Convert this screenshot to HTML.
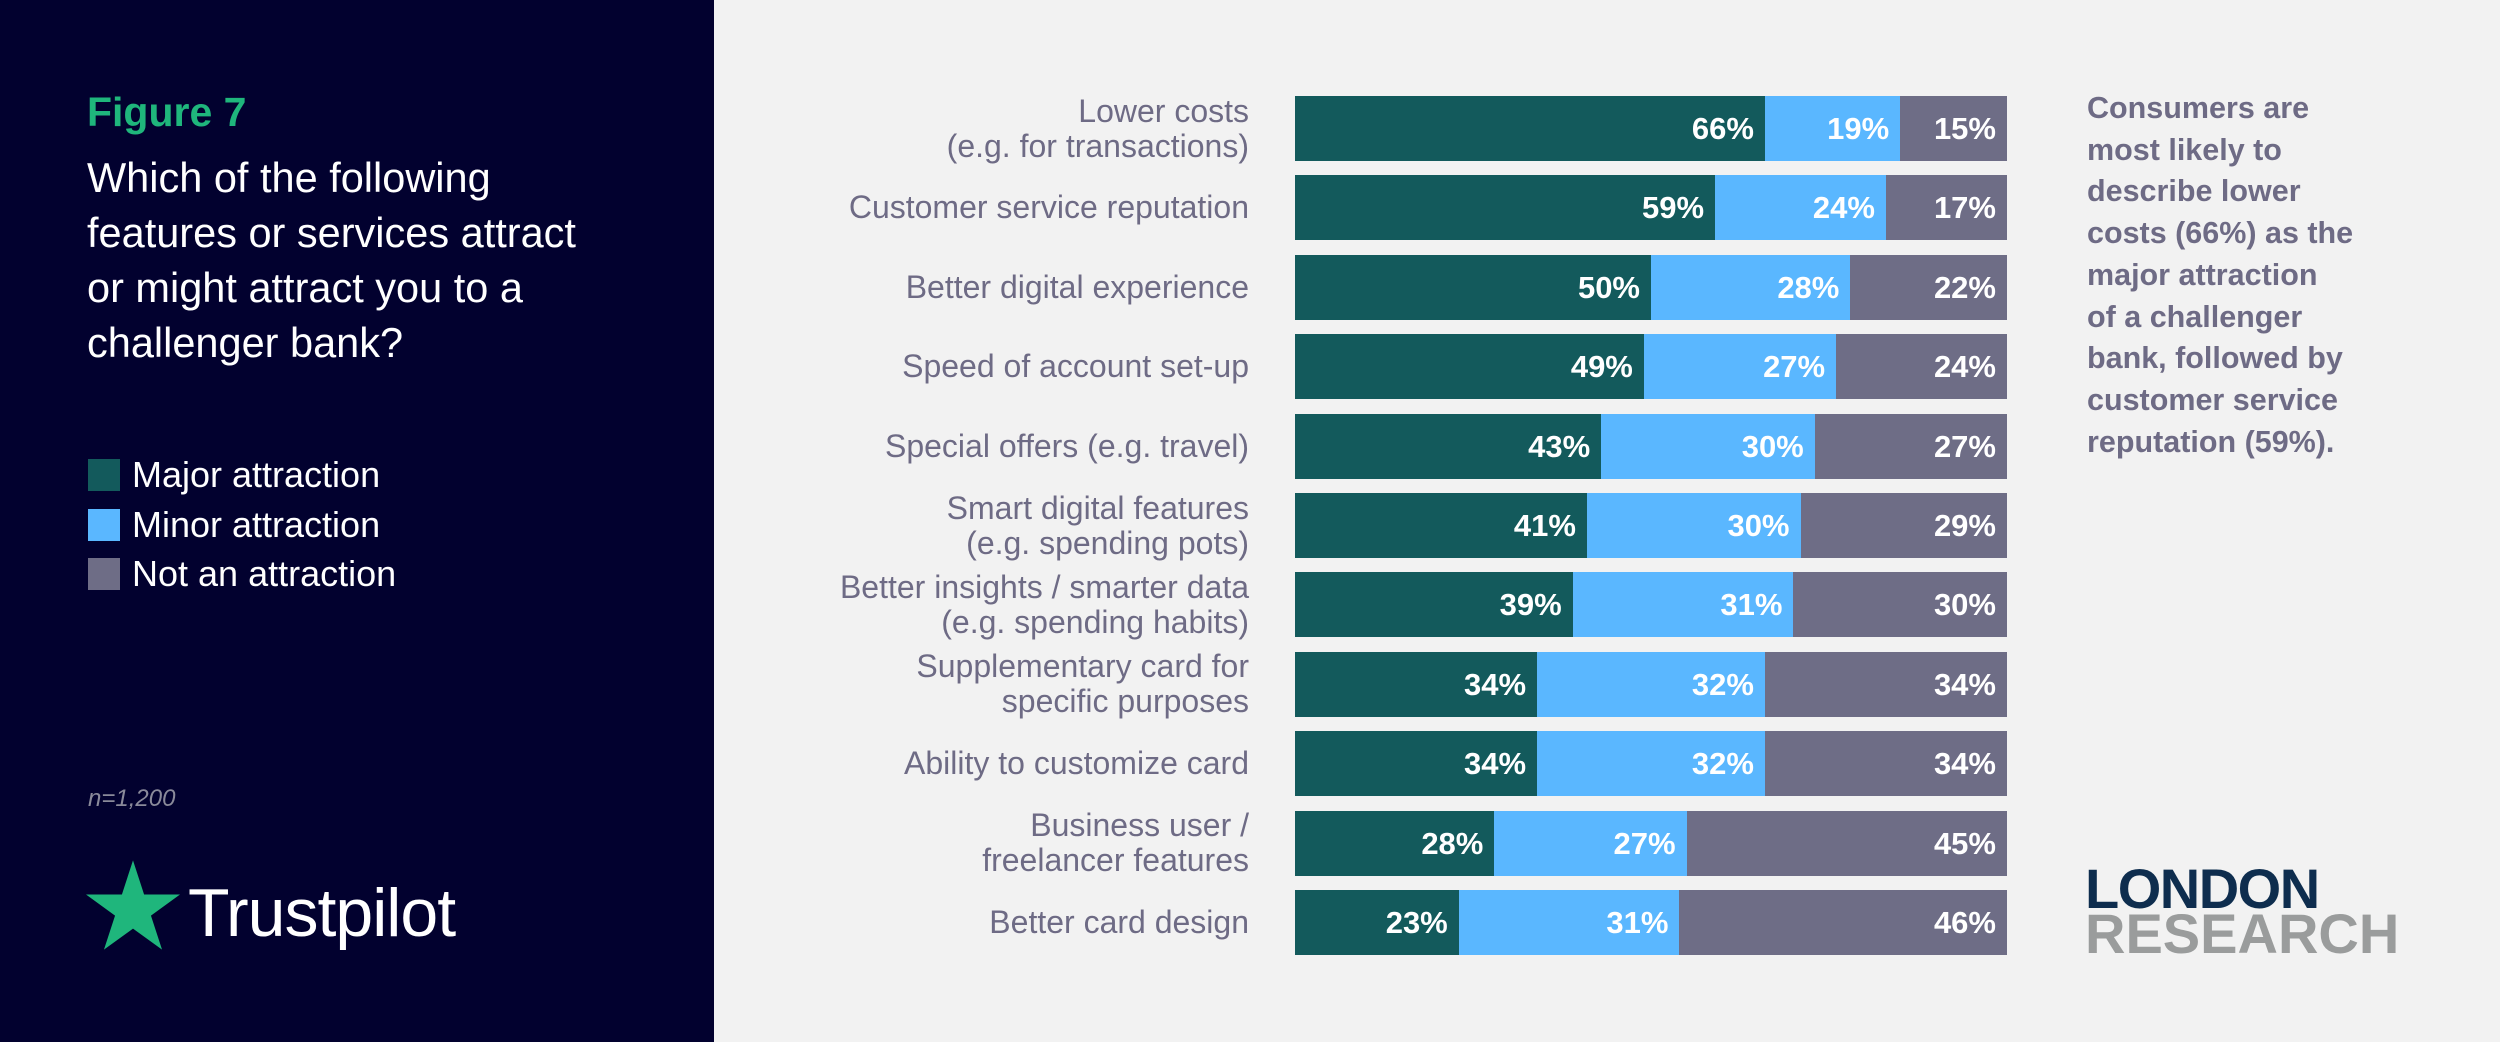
<!DOCTYPE html>
<html><head><meta charset="utf-8">
<style>
html,body{margin:0;padding:0}
body{width:2500px;height:1042px;background:#f2f2f2;position:relative;overflow:hidden;font-family:"Liberation Sans",sans-serif}
#left{position:absolute;left:0;top:0;width:714px;height:1042px;background:#02012f}
.abs{position:absolute}
.leg{position:absolute;left:88px;color:#fff;font-size:36px;line-height:40px;padding-left:44px}
.leg i{position:absolute;left:0;top:4px;width:32px;height:32px}
.lbl{position:absolute;right:1251px;text-align:right;color:#6e6b85;font-size:32px;line-height:35px;white-space:nowrap}
.seg{position:absolute;height:65px}
.pct{position:absolute;color:#fff;font-weight:bold;font-size:31px;line-height:65px;text-align:right}
</style></head><body>
<div id="left">
  <div class="abs" style="left:87px;top:90px;color:#1fb67c;font-weight:bold;font-size:41px;line-height:44px">Figure 7</div>
  <div class="abs" style="left:87px;top:150px;color:#fff;font-size:41.5px;line-height:55px;width:620px;white-space:nowrap">Which of the following<br>features or services attract<br>or might attract you to a<br>challenger bank?</div>
  <div class="leg" style="top:455px"><i style="background:#135a5c"></i>Major attraction</div>
  <div class="leg" style="top:505px"><i style="background:#5ab7ff"></i>Minor attraction</div>
  <div class="leg" style="top:554px"><i style="background:#6e6d86"></i>Not an attraction</div>
  <div class="abs" style="left:88px;top:785px;color:#8a8a9a;font-style:italic;font-size:24px">n=1,200</div>
  <svg class="abs" style="left:86px;top:860px" width="94" height="90" viewBox="0 0 100 95"><polygon points="50,0 61.8,36.3 100,36.3 69.1,58.8 80.9,95 50,72.6 19.1,95 30.9,58.8 0,36.3 38.2,36.3" fill="#1fb67c"/></svg>
  <div class="abs" style="left:188px;top:875px;color:#fff;font-size:68px;line-height:76px;letter-spacing:-1px">Trustpilot</div>
</div>
<div id="chart"></div>
<div class="abs" style="left:2087px;top:88px;color:#6e6b85;font-weight:bold;font-size:30.5px;line-height:41.7px;white-space:nowrap">Consumers are<br>most likely to<br>describe lower<br>costs (66%) as the<br>major attraction<br>of a challenger<br>bank, followed by<br>customer service<br>reputation (59%).</div>
<div class="abs" style="left:2085px;top:866px;font-weight:bold;font-size:56px;line-height:45px;letter-spacing:-1.5px">
  <div style="color:#0e2d4e">LONDON</div><div style="color:#9a9c9c;letter-spacing:0px">RESEARCH</div>
</div>
<script>
const categories=["Lower costs\n(e.g. for transactions)","Customer service reputation","Better digital experience","Speed of account set-up","Special offers (e.g. travel)","Smart digital features\n(e.g. spending pots)","Better insights / smarter data\n(e.g. spending habits)","Supplementary card for\nspecific purposes","Ability to customize card","Business user /\nfreelancer features","Better card design"];
const major=[66,59,50,49,43,41,39,34,34,28,23];
const minor=[19,24,28,27,30,30,31,32,32,27,31];
const notAttr=[15,17,22,24,27,29,30,34,34,45,46];
const X0=1295,W=712,Y0=96,STEP=79.4,H=65;
const xs=v=>v/100*W;
const chart=document.getElementById('chart');
const colors=['#135a5c','#5ab7ff','#6e6d86'];
const names=['major','minor','not'];
categories.forEach((c,i)=>{
  const y=Y0+i*STEP;
  const lbl=document.createElement('div');
  lbl.className='lbl';
  
  
  const lines=c.split('\n');
  lbl.style.top=(y+H/2-lines.length*35/2)+'px';
  lbl.innerHTML=lines.join('<br>');
  chart.appendChild(lbl);
  const vals=[major[i],minor[i],notAttr[i]];
  const tot=vals[0]+vals[1]+vals[2];
  let acc=0;
  vals.forEach((v,k)=>{
    const x=X0+xs(acc/tot*100), w=xs(v/tot*100);
    const s=document.createElement('div');
    s.className='seg';
    
    
    s.style.cssText+=`left:${x}px;top:${y}px;width:${w+0.5}px;background:${colors[k]}`;
    chart.appendChild(s);
    const p=document.createElement('div');
    p.className='pct';
    
    
    p.style.cssText+=`left:${x}px;top:${y}px;width:${w-11}px`;
    p.textContent=v+'%';
    chart.appendChild(p);
    acc+=v;
  });
});
</script>
</body></html>
